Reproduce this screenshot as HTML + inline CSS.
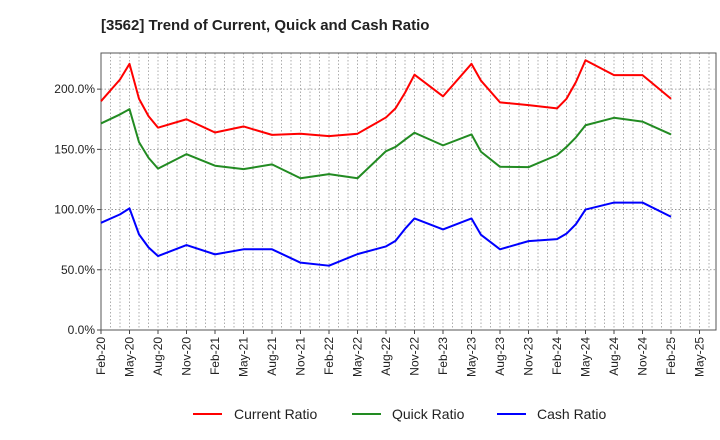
<!DOCTYPE html>
<html><head><meta charset="utf-8"><style>
body{margin:0;background:#fff;font-family:"Liberation Sans",sans-serif;}
svg{display:block}
</style></head><body>
<svg id="chart" width="720" height="440" font-family="Liberation Sans, sans-serif">
<text x="101" y="30" font-size="15" font-weight="bold" fill="#222">[3562]  Trend of Current, Quick and Cash Ratio</text>
<g id="grid"></g><g id="axes"></g><g id="series"></g>
<g>
<line x1="193" y1="414" x2="222" y2="414" stroke="#ff0000" stroke-width="2"/>
<text x="234" y="419" font-size="14" fill="#222">Current Ratio</text>
<line x1="352" y1="414" x2="381" y2="414" stroke="#228b22" stroke-width="2"/>
<text x="392" y="419" font-size="14" fill="#222">Quick Ratio</text>
<line x1="497" y1="414" x2="526" y2="414" stroke="#0000ff" stroke-width="2"/>
<text x="537" y="419" font-size="14" fill="#222">Cash Ratio</text>
</g>
</svg>
<script>
const monthIdx=[0,2,3,4,5,6,9,12,15,18,21,24,27,30,31,32,33,36,39,40,42,45,48,49,50,51,54,57,60];
const currentRatio=[190,208,221,192,177.6,168,175,164,169,162,163,161,163,176.5,184,197,212,194,221,207,189,186.7,184,192,206,224,211.6,211.6,192];
const quickRatio=[171.5,179,183.4,156,143,134,146,136.4,133.6,137.5,126,129.4,126,148.5,152,158,163.8,153.3,162.4,148,135.5,135.2,145.2,152,160,170,176.2,173,162.4];
const cashRatio=[89,96,101,79.4,68.6,61.4,70.5,62.8,67,67,55.9,53.4,63,69.4,74,84,92.6,83.5,92.6,79,67,73.8,75.5,80,88,100,105.8,105.8,94];
const yTicks=[0,50,100,150,200];
const xLabels=["Feb-20","May-20","Aug-20","Nov-20","Feb-21","May-21","Aug-21","Nov-21","Feb-22","May-22","Aug-22","Nov-22","Feb-23","May-23","Aug-23","Nov-23","Feb-24","May-24","Aug-24","Nov-24","Feb-25","May-25"];
const L=101,T=53,R=716,B=330,YMAX=230,STEP=9.5;
const xs=i=>L+i*STEP, ys=v=>B-(v/YMAX)*(B-T);
const NS="http://www.w3.org/2000/svg";
function mk(tag,attrs,parent){const e=document.createElementNS(NS,tag);for(const k in attrs)e.setAttribute(k,attrs[k]);parent.appendChild(e);return e;}
const grid=document.getElementById('grid'),axes=document.getElementById('axes'),series=document.getElementById('series');
for(let i=1;xs(i)<R;i++){
 const g=mk('line',{x1:xs(i),x2:xs(i),y1:T,y2:B,stroke:'#999','stroke-width':0.8,'stroke-dasharray':'1.5,2'},grid);
 
 
}
yTicks.forEach(v=>{
 if(v>0){const g=mk('line',{x1:L,x2:R,y1:ys(v),y2:ys(v),stroke:'#888','stroke-width':0.8,'stroke-dasharray':'1.5,2'},grid);
 
 }
 const t=mk('text',{x:L-6,y:ys(v)+4,'text-anchor':'end','font-size':12,fill:'#222'},axes);
 t.textContent=v.toFixed(1)+'%';
 
 
 mk('line',{x1:L-4,x2:L,y1:ys(v),y2:ys(v),stroke:'#444'},axes);
});
xLabels.forEach((lb,k)=>{
 const x=xs(k*3);
 mk('line',{x1:x,x2:x,y1:B,y2:B+4,stroke:'#444'},axes);
 const t=mk('text',{x:x+4,y:B+7,'text-anchor':'end','font-size':12,fill:'#222',transform:`rotate(-90 ${x+4} ${B+7})`},axes);
 t.textContent=lb;
 
 
});
const box=mk('rect',{x:L,y:T,width:R-L,height:B-T,fill:'none',stroke:'#555','stroke-width':1},axes);


[[currentRatio,'#ff0000','current-ratio-line'],[quickRatio,'#228b22','quick-ratio-line'],[cashRatio,'#0000ff','cash-ratio-line']].forEach(([vals,col,name])=>{
 const p=mk('polyline',{points:vals.map((v,j)=>xs(monthIdx[j])+','+ys(v)).join(' '),fill:'none',stroke:col,'stroke-width':2,'stroke-linejoin':'round'},series);
 
 
});
</script>
</body></html>
